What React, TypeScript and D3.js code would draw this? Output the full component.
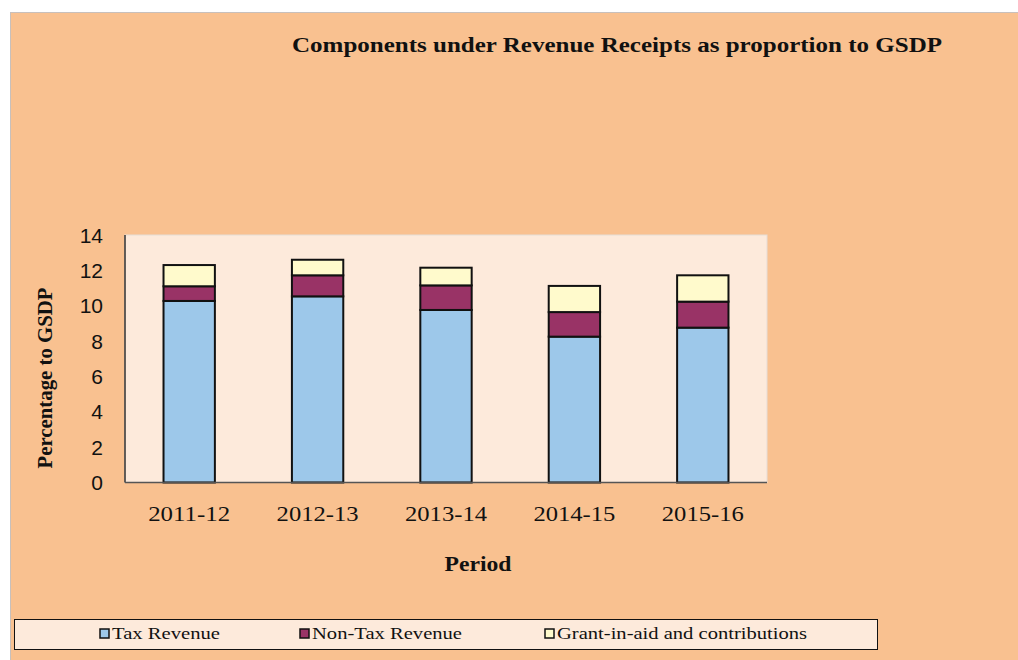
import React from "react";
import * as d3 from "d3";

const periods = ["2011-12", "2012-13", "2013-14", "2014-15", "2015-16"];
const taxRevenue = [10.27, 10.53, 9.76, 8.25, 8.76];
const nonTaxRevenue = [0.83, 1.19, 1.39, 1.39, 1.47];
const grants = [1.2, 0.88, 1.0, 1.48, 1.49];
const seriesNames = ["Tax Revenue", "Non-Tax Revenue", "Grant-in-aid and contributions"];
const seriesKeys = ["tax", "nontax", "grant"];
const colors = ["#9DC8EA", "#993366", "#FFFACC"];
const yTicks = [0, 2, 4, 6, 8, 10, 12, 14];

export default function App() {
  const W = 1018, H = 660;
  const left = 125, right = 767, top = 235, bottom = 482.5;
  const x = d3.scaleBand<string>().domain(periods).range([left, right]).paddingInner(0.6).paddingOuter(0.3);
  const y = d3.scaleLinear().domain([0, 14]).range([bottom, top]);
  const rows = periods.map((p, i) => ({ period: p, tax: taxRevenue[i], nontax: nonTaxRevenue[i], grant: grants[i] }));
  const stacked = d3.stack<any>().keys(seriesKeys)(rows);
  const legendX = [100, 300, 545];
  const legendTL = [108, 150, 250];
  const serif = "'Liberation Serif', 'Times New Roman', serif";
  const sans = "'Liberation Sans', Arial, sans-serif";
  return (
    <svg width={W} height={H} style={{ position: "absolute", left: 0, top: 0, background: "#fff" }}>
      <rect x={10.5} y={12.5} width={W - 10} height={H - 12} fill="#F9C190" stroke="#C8C0BC" />
      <text x={617} y={52} textAnchor="middle" fontFamily={serif} fontWeight="bold" fontSize={20.5} textLength={650} lengthAdjust="spacingAndGlyphs" fill="#111">
        Components under Revenue Receipts as proportion to GSDP
      </text>
      <rect x={left} y={top} width={right - left} height={bottom - top} fill="#FDEADB" stroke="#E6DDD6" />
      {stacked.map((s, si) =>
        s.map((d, i) => (
          <rect key={si + "-" + i} x={x(periods[i])} y={y(d[1])} width={x.bandwidth()} height={y(d[0]) - y(d[1])}
            fill={colors[si]} stroke="#111" strokeWidth={2} />
        ))
      )}
      <line x1={left} x2={left} y1={top} y2={bottom} stroke="#333" strokeWidth={1.5} />
      <line x1={left} x2={right} y1={bottom} y2={bottom} stroke="#555" strokeWidth={1.5} />
      {yTicks.map((t) => (
        <text key={t} x={103} y={y(t) + 7.5} textAnchor="end" fontFamily={sans} fontSize={21} fill="#111">{t}</text>
      ))}
      {periods.map((p) => (
        <text key={p} x={(x(p) as number) + x.bandwidth() / 2} y={521} textAnchor="middle" fontFamily={serif} fontSize={22} textLength={82} lengthAdjust="spacingAndGlyphs" fill="#111">{p}</text>
      ))}
      <text transform={`translate(52,378) rotate(-90)`} textAnchor="middle" fontFamily={serif} fontWeight="bold" fontSize={21} textLength={181} lengthAdjust="spacingAndGlyphs" fill="#111">
        Percentage to GSDP
      </text>
      <text x={478} y={571} textAnchor="middle" fontFamily={serif} fontWeight="bold" fontSize={20} textLength={67} lengthAdjust="spacingAndGlyphs" fill="#111">Period</text>
      <rect x={14.5} y={619.5} width={863} height={30} fill="#FDEADB" stroke="#111" />
      {seriesNames.map((n, i) => (
        <g key={n}>
          <rect x={legendX[i]} y={629} width={9} height={9} fill={colors[i]} stroke="#111" strokeWidth={1.5} />
          <text x={legendX[i] + 12} y={639} fontFamily={serif} fontSize={17} textLength={legendTL[i]} lengthAdjust="spacingAndGlyphs" fill="#111">{n}</text>
        </g>
      ))}
    </svg>
  );
}
